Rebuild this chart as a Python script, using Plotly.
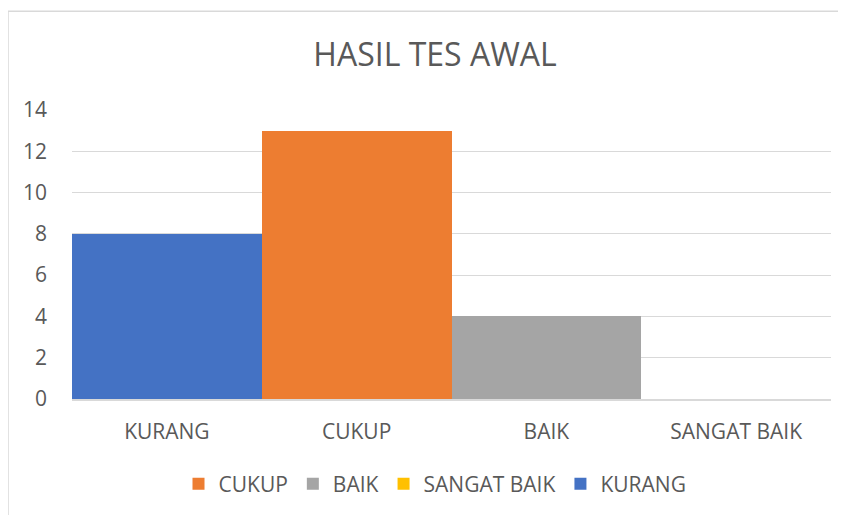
import plotly.graph_objects as go

categories = ["KURANG", "CUKUP", "BAIK", "SANGAT BAIK"]
values = [8, 13, 4, 0]
colors = {"KURANG": "#4472C4", "CUKUP": "#ED7D31", "BAIK": "#A5A5A5", "SANGAT BAIK": "#FFC000"}
legend_order = ["CUKUP", "BAIK", "SANGAT BAIK", "KURANG"]
y_ticks = [0, 2, 4, 6, 8, 10, 12, 14]
title_text = "HASIL TES AWAL"

FONT = "Open Sans, Liberation Sans, sans-serif"
TXT = "#595959"

fig = go.Figure()
for name in legend_order:
    i = categories.index(name)
    fig.add_trace(go.Bar(
        x=[categories[i]], y=[values[i]], name=name,
        marker=dict(color=colors[name], line=dict(width=0)),
        width=1.0,
    ))

# page offset (body margin) compensation
OFF = 8
W, H = 846 - OFF, 515 - OFF
px_left, px_right, px_top, px_bottom = 72, 831, 110, 400  # page coords of plot area
L = px_left - OFF
R = W - (px_right - OFF)
T = px_top - OFF
B = H - (px_bottom - OFF)
pw = W - L - R
ph = H - T - B

def py(y_page):
    return (ph - (y_page - OFF - T)) / ph

def pxf(x_page):
    return (x_page - OFF - L) / pw

fig.update_layout(
    width=W, height=H,
    margin=dict(l=L, r=R, t=T, b=B),
    paper_bgcolor="white", plot_bgcolor="white",
    barmode="overlay", bargap=0,
    font=dict(family=FONT, color=TXT, size=21),
    title=dict(text=title_text, x=(435 - OFF) / W, xanchor="center", y=1 - (55 - OFF) / H, yanchor="middle",
               font=dict(size=32, color=TXT, family=FONT)),
    showlegend=True,
    legend=dict(orientation="h", x=pxf(435), xanchor="center", y=py(484), yanchor="middle",
                font=dict(size=21, color=TXT), traceorder="normal", itemwidth=30),
    xaxis=dict(categoryorder="array", categoryarray=categories, showgrid=False,
               showline=True, linecolor="#D9D9D9", linewidth=1.5,
               ticks="outside", ticklen=13, tickcolor="rgba(0,0,0,0)",
               tickfont=dict(size=21, color=TXT), range=[-0.5, 3.5]),
    yaxis=dict(range=[0, 14], tickvals=y_ticks, showgrid=True, gridcolor="#D9D9D9", gridwidth=1,
               zeroline=False, showline=False, ticklabelstandoff=24,
               tickfont=dict(size=21, color=TXT)),
    shapes=[dict(type="rect", xref="paper", yref="paper",
                 x0=pxf(8), x1=pxf(W + 40),
                 y0=py(H + 40), y1=py(11),
                 line=dict(color="#D9D9D9", width=1.5), fillcolor="rgba(0,0,0,0)", layer="below")],
)

fig.write_html("out.html")
